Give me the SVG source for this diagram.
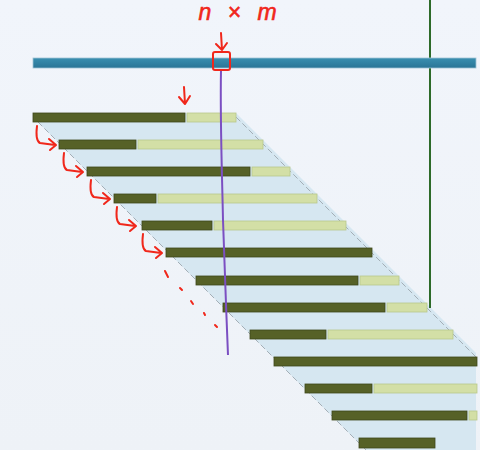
<svg xmlns="http://www.w3.org/2000/svg" width="480" height="450" viewBox="0 0 480 450">
<defs>
<style>
.dk{fill:#566127;stroke:#3e471a;stroke-width:0.8}
.lt{fill:#d3dfa6;stroke:#b9c78c;stroke-width:0.8}
.red{fill:none;stroke:#f0271b;stroke-width:2;stroke-linecap:round;stroke-linejoin:round}
.edge{stroke:#a3aeb6;stroke-width:1;stroke-dasharray:6 3;fill:none}
</style>
<linearGradient id="bg" x1="0" y1="0" x2="0" y2="1">
<stop offset="0" stop-color="#f1f5fb"/>
<stop offset="1" stop-color="#eef2f7"/>
</linearGradient>
<linearGradient id="bar" x1="0" y1="0" x2="0" y2="1">
<stop offset="0" stop-color="#3a8fb0"/>
<stop offset="1" stop-color="#2a7596"/>
</linearGradient>
</defs>
<rect width="480" height="450" fill="url(#bg)"/>
<g id="band">
<polygon points="33,113 236,113 476,353 476,450 366,450 38,122" fill="#d6e7f1"/>
<line class="edge" x1="38" y1="122" x2="366" y2="450"/>
<line class="edge" x1="236" y1="117" x2="476" y2="357"/>
</g>
<g id="green-line"><line x1="430" y1="0" x2="430" y2="308" stroke="#2d6a29" stroke-width="2"/></g>
<g id="top-bar"><rect x="33" y="58" width="443" height="10" fill="url(#bar)" stroke="#9fc4d4" stroke-width="0.8"/></g>
<g id="row1"><rect class="dk" x="33" y="113" width="152" height="9"/><rect class="lt" x="187" y="113" width="49" height="9"/></g>
<g id="row2"><rect class="dk" x="59" y="140" width="77" height="9"/><rect class="lt" x="138" y="140" width="125" height="9"/></g>
<g id="row3"><rect class="dk" x="87" y="167" width="163" height="9"/><rect class="lt" x="252" y="167" width="38" height="9"/></g>
<g id="row4"><rect class="dk" x="114" y="194" width="42" height="9"/><rect class="lt" x="158" y="194" width="159" height="9"/></g>
<g id="row5"><rect class="dk" x="142" y="221" width="70" height="9"/><rect class="lt" x="214" y="221" width="132" height="9"/></g>
<g id="row6"><rect class="dk" x="166" y="248" width="206" height="9"/></g>
<g id="row7"><rect class="dk" x="196" y="276" width="162" height="9"/><rect class="lt" x="360" y="276" width="39" height="9"/></g>
<g id="row8"><rect class="dk" x="223" y="303" width="162" height="9"/><rect class="lt" x="387" y="303" width="40" height="9"/></g>
<g id="row9"><rect class="dk" x="250" y="330" width="76" height="9"/><rect class="lt" x="328" y="330" width="125" height="9"/></g>
<g id="row10"><rect class="dk" x="274" y="357" width="203" height="9"/></g>
<g id="row11"><rect class="dk" x="305" y="384" width="67" height="9"/><rect class="lt" x="374" y="384" width="103" height="9"/></g>
<g id="row12"><rect class="dk" x="332" y="411" width="135" height="9"/><rect class="lt" x="469" y="411" width="8" height="9"/></g>
<g id="row13"><rect class="dk" x="359" y="438" width="76" height="10"/></g>
<g id="purple-line"><path d="M221,70 C220,120 222,170 223,220 C225,270 226,310 228,355" fill="none" stroke="#7b4fc2" stroke-width="2"/></g>
<g id="annotations">
<text x="240" y="20" text-anchor="middle" font-family="'Liberation Sans', sans-serif" font-style="italic" font-size="23" letter-spacing="5" fill="#f0271b" stroke="#f0271b" stroke-width="0.6">n × m</text>
<rect x="213" y="52" width="17" height="18" rx="2" fill="none" stroke="#f0271b" stroke-width="2"/>
<path class="red" d="M221,33 L222,50 M216,44 L222,50 L227,43"/>
<path class="red" d="M184,87 L185,104 M179,97 L185,104 L190,96"/>
<path class="red" d="M37,126 C36,134 36,141 40,143 L55,145 M49,139 L56,145 L50,150"/>
<path class="red" d="M64,153 C63,161 63,168 67,170 L82,172 M76,166 L83,172 L77,177"/>
<path class="red" d="M91,180 C90,188 90,195 94,197 L109,199 M103,193 L110,199 L104,204"/>
<path class="red" d="M117,207 C116,215 116,222 120,224 L135,226 M129,220 L136,226 L130,231"/>
<path class="red" d="M143,234 C142,242 142,249 146,251 L161,253 M155,247 L162,253 L156,258"/>
<path class="red" d="M165,271 L168,277 M180,288 L182,290 M191,301 L193,304 M204,313 L205,315 M215,325 L217,327"/>
</g>
</svg>
